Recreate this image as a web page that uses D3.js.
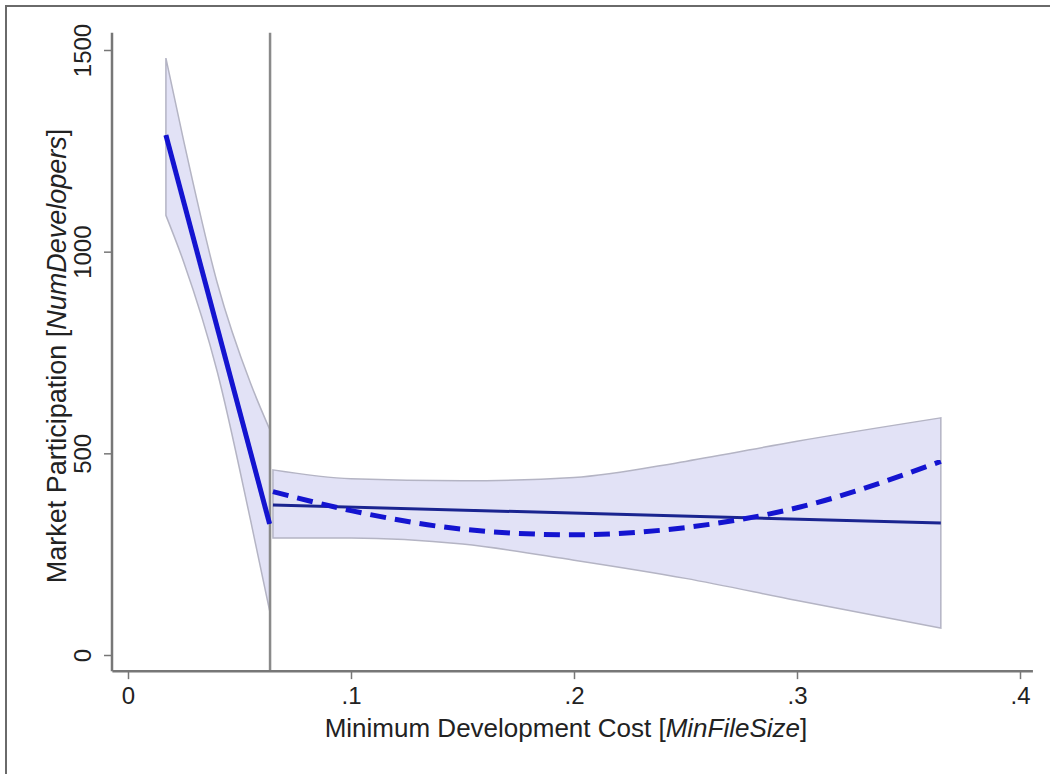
<!DOCTYPE html>
<html>
<head>
<meta charset="utf-8">
<script src="https://cdn.jsdelivr.net/npm/d3@7"></script>
<style>
  body { margin: 0; background: #fff; }
  text { font-family: "Liberation Sans", Arial, sans-serif; fill: #222; }
</style>
</head>
<body>
<div id="chart-container"></div>
<script>
// CONSTANTS
const WIDTH = 1050;
const HEIGHT = 774;

// DATA
const cutoff = 0.0637;

// left of cutoff
const leftX = [0.017, 0.025, 0.04, 0.055, 0.0635];
const leftUpper = [1480, 1274, 923, 673, 560];
const leftLower = [1090, 974, 703, 333, 110];
const leftFitX = [0.017, 0.0635];
const leftFit = [1289, 325];

// right of cutoff
const rightX = [0.065, 0.1, 0.15, 0.2, 0.25, 0.3, 0.3645];
const rightUpper = [459, 437, 432, 440, 480, 530, 588];
const rightLower = [290, 290, 275, 235, 190, 135, 67];
const rightQuad = [405, 358, 312, 298, 316, 365, 480];
const rightFitX = [0.065, 0.3645];
const rightFit = [372, 327];

const xTicks = [0, 0.1, 0.2, 0.3, 0.4];
const yTicks = [0, 500, 1000, 1500];

const xTitle = "Minimum Development Cost [";
const xTitleItalic = "MinFileSize";
const yTitle = "Market Participation [";
const yTitleItalic = "NumDevelopers";

// SCALES
const x = d3.scaleLinear().domain([0, 0.4]).range([128, 1020]);
const y = d3.scaleLinear().domain([0, 1500]).range([655, 50]);
const xLo = -0.007, xHi = 0.4058;
const yLo = -40, yHi = 1543;

const svg = d3.select("#chart-container")
  .append("svg")
  .attr("width", WIDTH)
  .attr("height", HEIGHT);

// outer frame of the graph window
svg.append("path")
  .attr("d", `M6,${HEIGHT + 5} L6,6 L${WIDTH + 5},6`)
  .attr("fill", "none")
  .attr("stroke", "#6a6a6a")
  .attr("stroke-width", 2);

const zip = (xs, ys) => xs.map((d, i) => [d, ys[i]]);

const area = d3.area()
  .x(d => x(d[0]))
  .y0(d => y(d[2]))
  .y1(d => y(d[1]))
  .curve(d3.curveMonotoneX);

const line = d3.line()
  .x(d => x(d[0]))
  .y(d => y(d[1]));

const bands = [
  leftX.map((d, i) => [d, leftUpper[i], leftLower[i]]),
  rightX.map((d, i) => [d, rightUpper[i], rightLower[i]])
];

svg.append("g")
  .selectAll("path")
  .data(bands)
  .enter()
  .append("path")
  .attr("d", area)
  .attr("fill", "#e2e2f6")
  .attr("stroke", "#b4b4c4")
  .attr("stroke-width", 1.5);

// cutoff line
svg.append("line")
  .attr("x1", x(cutoff)).attr("x2", x(cutoff))
  .attr("y1", y(yHi)).attr("y2", y(yLo))
  .attr("stroke", "#8a8a8a")
  .attr("stroke-width", 2.5);

// linear fits
svg.append("g")
  .selectAll("path")
  .data([zip(leftFitX, leftFit), zip(rightFitX, rightFit)])
  .enter()
  .append("path")
  .attr("d", line)
  .attr("fill", "none")
  .attr("stroke", "#1a2490")
  .attr("stroke-width", 3);

// quadratic fits (dashed)
svg.append("g")
  .selectAll("path")
  .data([zip(leftFitX, leftFit), zip(rightX, rightQuad)])
  .enter()
  .append("path")
  .attr("d", d3.line().x(d => x(d[0])).y(d => y(d[1])).curve(d3.curveMonotoneX))
  .attr("fill", "none")
  .attr("stroke", "#1414d0")
  .attr("stroke-width", 5)
  .attr("stroke-dasharray", (d, i) => i === 0 ? null : "16,9");

// AXES
const yAxis = svg.append("g")
  .attr("transform", "translate(112,0)")
  .call(d3.axisLeft(y).tickValues(yTicks).tickSize(8).tickSizeOuter(0).tickFormat(d3.format("d")));
yAxis.select(".domain").remove();
yAxis.append("line")
  .attr("y1", y(yHi)).attr("y2", y(yLo))
  .attr("stroke", "#777").attr("stroke-width", 2.5);
yAxis.selectAll(".tick line").attr("stroke", "#777").attr("stroke-width", 1.5);
yAxis.selectAll(".tick text")
  .attr("x", null).attr("dy", null)
  .attr("transform", "translate(-21,0) rotate(-90)")
  .attr("text-anchor", "middle")
  .style("font-size", "24px")
  .style("font-family", "Liberation Sans, Arial, sans-serif")
  .attr("fill", "#222");

const xAxis = svg.append("g")
  .attr("transform", `translate(0,${y(yLo)})`)
  .call(d3.axisBottom(x).tickValues(xTicks).tickSize(8).tickSizeOuter(0)
    .tickFormat(d => d === 0 ? "0" : d3.format(".1f")(d).replace(/^0/, "")));
xAxis.select(".domain").remove();
xAxis.append("line")
  .attr("x1", x(xLo)).attr("x2", x(xHi))
  .attr("stroke", "#777").attr("stroke-width", 2.5);
xAxis.selectAll(".tick line").attr("stroke", "#777").attr("stroke-width", 1.5);
xAxis.selectAll(".tick text")
  .attr("y", 16).attr("dy", "0.71em")
  .style("font-size", "24px")
  .style("font-family", "Liberation Sans, Arial, sans-serif")
  .attr("fill", "#222");

// TITLES
const xt = svg.append("text")
  .attr("x", 566).attr("y", 737)
  .attr("text-anchor", "middle")
  .style("font-size", "26px");
xt.append("tspan").text(xTitle);
xt.append("tspan").style("font-style", "italic").text(xTitleItalic);
xt.append("tspan").text("]");

const yt = svg.append("text")
  .attr("transform", "translate(66,356) rotate(-90)")
  .attr("text-anchor", "middle")
  .style("font-size", "27px");
yt.append("tspan").text(yTitle);
yt.append("tspan").style("font-style", "italic").text(yTitleItalic);
yt.append("tspan").text("]");
</script>
</body>
</html>
